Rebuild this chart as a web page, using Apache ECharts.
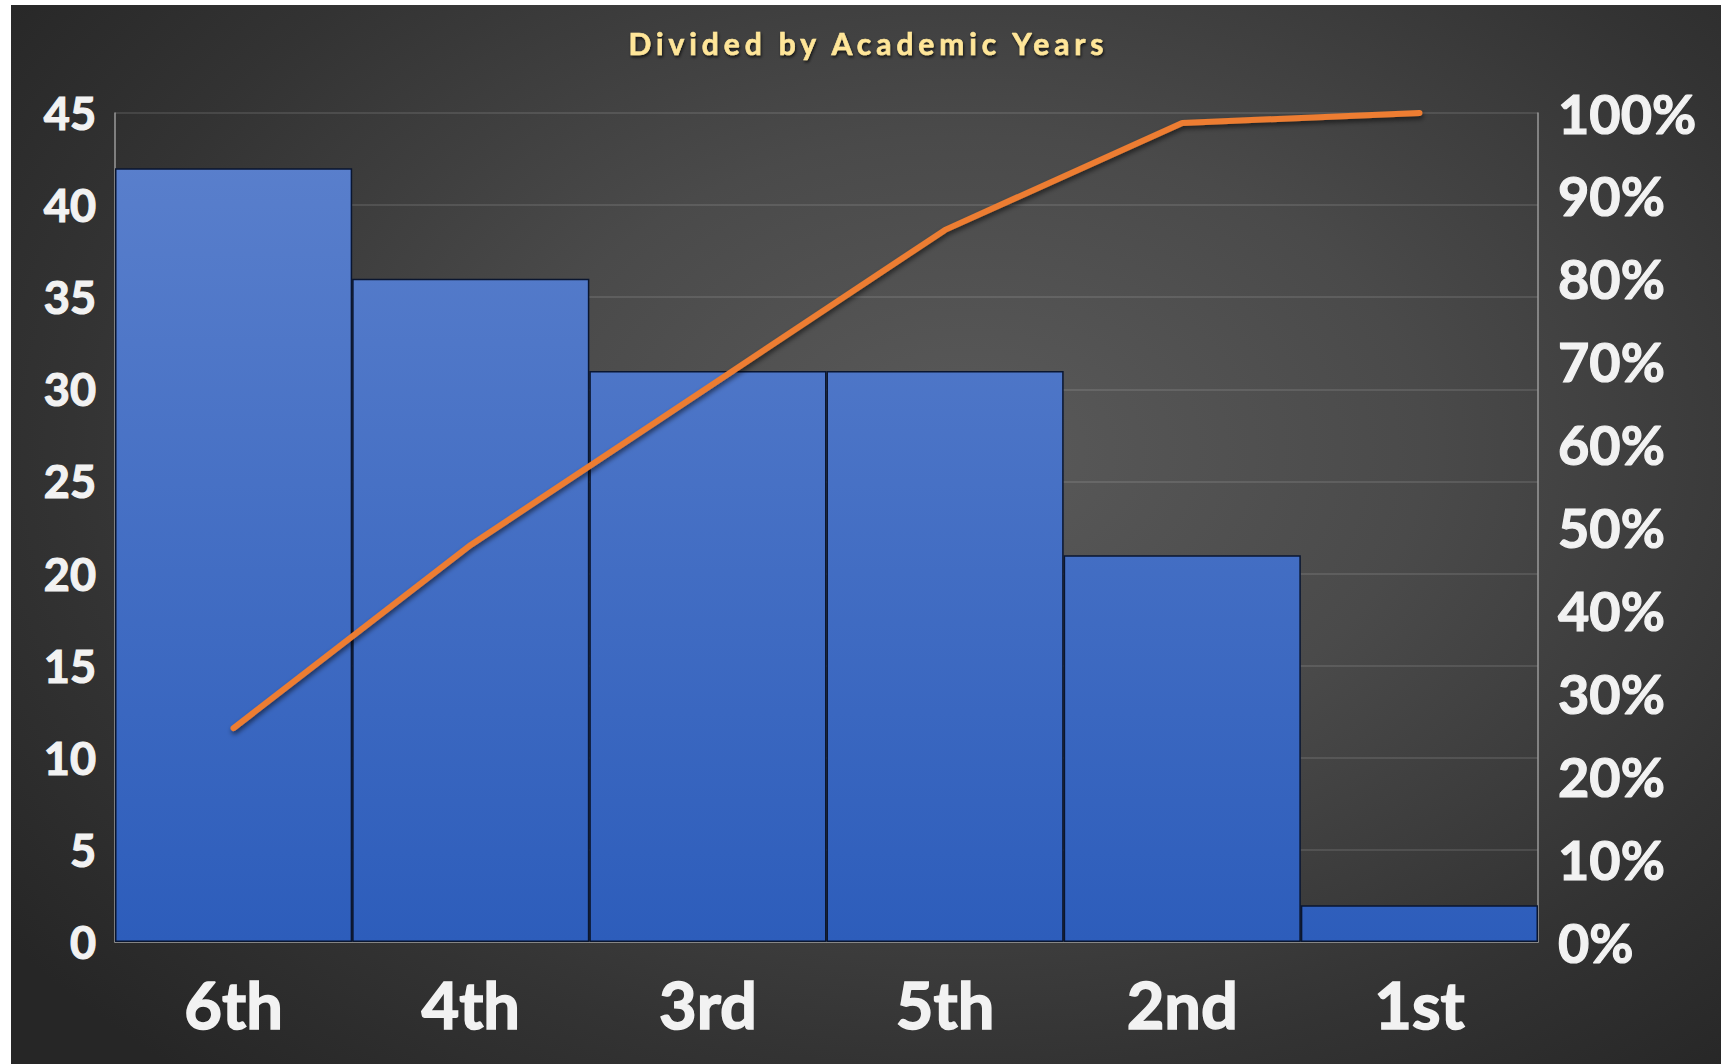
<!DOCTYPE html>
<html>
<head>
<meta charset="utf-8">
<script src="https://cdn.jsdelivr.net/npm/echarts@6/dist/echarts.min.js"></script>
<style>
  html, body { margin: 0; padding: 0; background: #ffffff; width: 1721px; height: 1064px; overflow: hidden; }
  #chart {
    position: absolute; left: 11px; top: 5px; width: 1710px; height: 1059px;
    background: radial-gradient(ellipse 70% 78% at 56% 42%, #5a5a5a 0%, #4a4a4a 38%, #333333 75%, #262626 100%);
  }
</style>
</head>
<body>
<div id="chart"></div>
<script>
const titleText = 'Divided by Academic Years';
const categories = ['6th', '4th', '3rd', '5th', '2nd', '1st'];
const counts = [42, 36, 31, 31, 21, 2];
const cumulativePercent = [25.8, 47.9, 66.9, 85.9, 98.8, 100];
const leftTicks = { min: 0, max: 45, interval: 5 };
const rightTicks = { min: 0, max: 100, interval: 10 };

const FONT = 'Lato';
const LABEL = '#F2F2F2';
const TITLE_SIZE = 30;
const chart = echarts.init(document.getElementById('chart'), null, { renderer: 'svg' });

const option = {
  backgroundColor: 'transparent',
  animation: false,
  title: {
    text: titleText,
    left: 'center',
    top: 18,
    textStyle: {
      color: '#FFE699',
      fontFamily: FONT,
      fontWeight: 'bold',
      fontSize: TITLE_SIZE,
      textBorderColor: '#FFE699',
      textBorderWidth: 0.6,
      textShadowColor: 'rgba(0,0,0,0.7)',
      textShadowBlur: 3,
      textShadowOffsetX: 1,
      textShadowOffsetY: 2
    }
  },
  grid: { left: 104, right: 183, top: 108, bottom: 122, containLabel: false },
  xAxis: {
    type: 'category',
    data: categories,
    axisLine: { show: true, lineStyle: { color: '#9a9a9a', width: 1.5 } },
    axisTick: { show: false },
    axisLabel: {
      color: LABEL, fontFamily: FONT, fontWeight: 'bold', fontSize: 65, margin: 29,
      textBorderColor: LABEL, textBorderWidth: 1.5
    }
  },
  yAxis: [
    {
      type: 'value',
      min: leftTicks.min, max: leftTicks.max, interval: leftTicks.interval,
      axisLine: { show: true, lineStyle: { color: '#9a9a9a', width: 1.5 } },
      axisTick: { show: false },
      splitLine: { show: true, lineStyle: { color: 'rgba(255,255,255,0.14)', width: 1.5 } },
      axisLabel: {
        color: LABEL, fontFamily: FONT, fontWeight: 'bold', fontSize: 45, margin: 19,
        textBorderColor: LABEL, textBorderWidth: 1.2
      }
    },
    {
      type: 'value',
      min: rightTicks.min, max: rightTicks.max, interval: rightTicks.interval,
      axisLine: { show: true, lineStyle: { color: '#9a9a9a', width: 1.5 } },
      axisTick: { show: false },
      splitLine: { show: false },
      axisLabel: {
        color: LABEL, fontFamily: FONT, fontWeight: 'bold', fontSize: 54, margin: 20,
        formatter: '{value}%', textBorderColor: LABEL, textBorderWidth: 1.2
      }
    }
  ],
  series: [
    {
      type: 'bar',
      data: counts,
      barCategoryGap: '0%',
      itemStyle: {
        color: new echarts.graphic.LinearGradient(0, 108, 0, 937, [
          { offset: 0, color: '#5C81CD' },
          { offset: 1, color: '#2D5DBB' }
        ], true),
        borderColor: '#0a1630',
        borderWidth: 1.5
      },
      z: 2
    },
    {
      type: 'line',
      yAxisIndex: 1,
      data: cumulativePercent,
      symbol: 'none',
      lineStyle: {
        color: '#ED7D31', width: 6, cap: 'round', join: 'round',
        shadowColor: 'rgba(0,0,0,0.55)', shadowBlur: 5, shadowOffsetX: 1, shadowOffsetY: 3
      },
      z: 3
    }
  ]
};
chart.setOption(option);

const TARGET_TITLE_WIDTH = 478;
function spaceTitle() {
  const c = document.createElement('canvas').getContext('2d');
  c.font = 'bold ' + TITLE_SIZE + 'px ' + FONT;
  const natural = c.measureText(titleText).width;
  const spacing = Math.max(0, (TARGET_TITLE_WIDTH - natural) / (titleText.length - 1));
  document.querySelectorAll('#chart svg text').forEach(t => {
    if (t.textContent === titleText && !t.dataset.spaced) {
      t.dataset.spaced = '1';
      t.style.letterSpacing = spacing.toFixed(2) + 'px';
      t.setAttribute('transform', (t.getAttribute('transform') || '') + ' translate(' + (spacing / 2).toFixed(2) + ',0)');
    }
  });
}
chart.on('finished', spaceTitle);
spaceTitle();
</script>
</body>
</html>
